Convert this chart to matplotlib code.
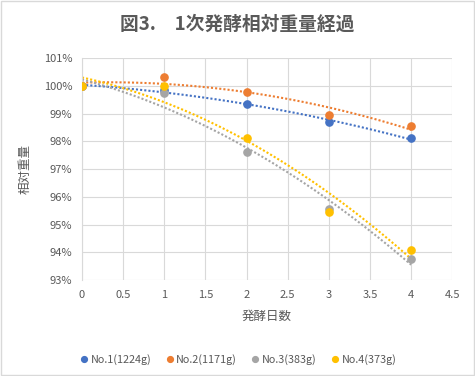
import numpy as np
import matplotlib
matplotlib.use("Agg")
import matplotlib.pyplot as plt
from matplotlib.ticker import FuncFormatter, MultipleLocator

plt.rcParams['font.family'] = ['Noto Sans CJK JP', 'DejaVu Sans']

days = [0, 1, 2, 3, 4]
labels = ["No.1(1224g)", "No.2(1171g)", "No.3(383g)", "No.4(373g)"]
no1 = [100.0, 99.85, 99.35, 98.69, 98.11]
no2 = [100.0, 100.31, 99.80, 98.96, 98.55]
no3 = [100.0, 99.75, 97.63, 95.55, 93.74]
no4 = [100.0, 100.0, 98.11, 95.44, 94.10]
series = [no1, no2, no3, no4]
colors = ["#4472C4", "#ED7D31", "#A5A5A5", "#FFC000"]
text_col = "#595959"

fig = plt.figure(figsize=(4.75, 3.76), dpi=100)
ax = fig.add_axes([0.1726, 0.2553, 0.7796, 0.5897])

# Excel-style 2nd order polynomial trendlines
xs = np.linspace(0, 4, 100)
for vals, c, lab in zip(series, colors, labels):
    coef = np.polyfit(days, vals, 2)
    ax.plot(xs, np.polyval(coef, xs), color=c, lw=1.5, ls=(0, (1, 1)),
            dash_capstyle='butt', zorder=2)
    ax.plot(days, vals, 'o', color=c, ms=5.2, label=lab, zorder=3)

ax.set_xlim(0, 4.5)
ax.set_ylim(93, 101)
ax.xaxis.set_major_locator(MultipleLocator(0.5))
ax.yaxis.set_major_locator(MultipleLocator(1))
ax.xaxis.set_major_formatter(FuncFormatter(lambda v, p: "{:g}".format(v)))
ax.yaxis.set_major_formatter(FuncFormatter(lambda v, p: "{:.0f}%".format(v)))
ax.grid(True, color="#D9D9D9", lw=0.8)
ax.set_axisbelow(True)
for s in ['top', 'right', 'bottom']:
    ax.spines[s].set_visible(False)
ax.spines['left'].set_color("#D9D9D9")
ax.tick_params(length=0, labelsize=8, labelcolor=text_col, pad=7)

ax.set_xlabel("発酵日数", fontsize=9, color=text_col, labelpad=7)
ax.set_ylabel("相対重量", fontsize=9, color=text_col, labelpad=9)
fig.text(0.5, 0.935, "図3.　1次発酵相対重量経過", ha='center', va='center',
         fontsize=13.5, fontweight='bold', color=text_col)

leg = fig.legend(loc='center', bbox_to_anchor=(0.5, 0.045), ncol=4, frameon=False,
                 fontsize=7.8, handletextpad=0.1, columnspacing=1.2,
                 handlelength=1.0, markerscale=0.8)
for t in leg.get_texts():
    t.set_color(text_col)

fig.patches.append(plt.Rectangle((0.002, 0.003), 0.995, 0.994, transform=fig.transFigure,
                                 fill=False, ec="#D9D9D9", lw=1))
fig.savefig("out.png", dpi=100)
